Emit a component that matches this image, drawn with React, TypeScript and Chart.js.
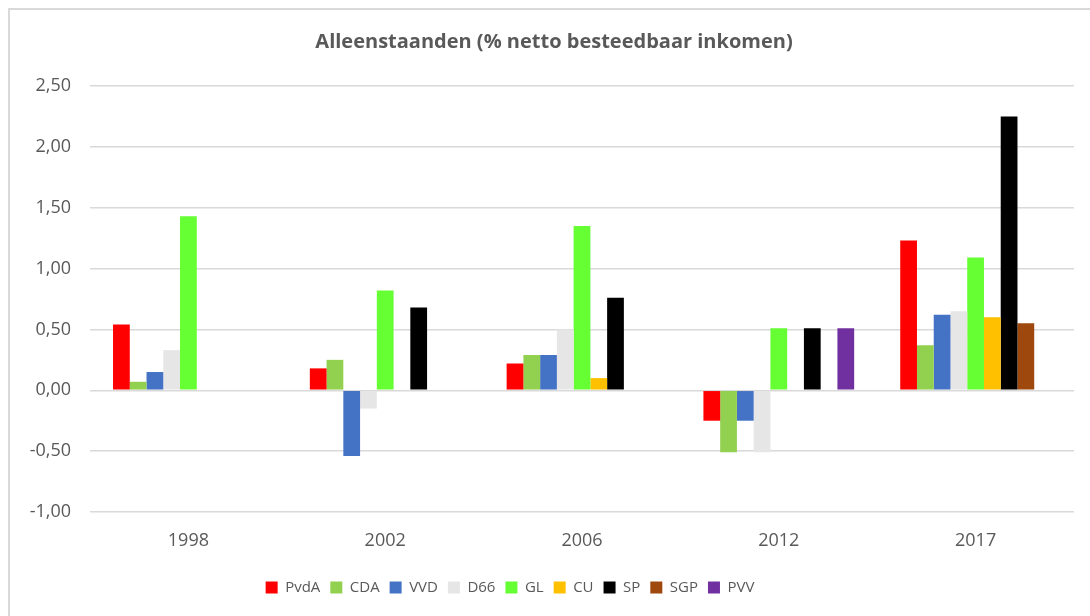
import React, { useEffect, useRef } from "react";
import { Chart, registerables } from "chart.js";

Chart.register(...registerables);

const chartTitle = "Alleenstaanden (% netto besteedbaar inkomen)";
const years = ["1998", "2002", "2006", "2012", "2017"];
const yTicks = [-1.0, -0.5, 0.0, 0.5, 1.0, 1.5, 2.0, 2.5];

const parties = ["PvdA", "CDA", "VVD", "D66", "GL", "CU", "SP", "SGP", "PVV"];
const pvda = [0.54, 0.18, 0.22, -0.25, 1.23];
const cda = [0.07, 0.25, 0.29, -0.51, 0.37];
const vvd = [0.15, -0.54, 0.29, -0.25, 0.62];
const d66 = [0.33, -0.15, 0.5, -0.51, 0.65];
const gl = [1.43, 0.82, 1.35, 0.51, 1.09];
const cu = [null, null, 0.1, null, 0.6];
const sp = [null, 0.68, 0.76, 0.51, 2.25];
const sgp = [null, null, null, null, 0.55];
const pvv = [null, null, null, 0.51, null];
const seriesValues = [pvda, cda, vvd, d66, gl, cu, sp, sgp, pvv];
const colors = ["#FF0000", "#92D050", "#4472C4", "#E7E6E6", "#66FF33", "#FFC000", "#000000", "#9E480E", "#7030A0"];

const FONT = "'Open Sans', 'Liberation Sans', sans-serif";
const TEXT = "#595959";

const framePlugin = {
  id: "frame",
  beforeDraw(chart: any) {
    const { ctx, width, height } = chart;
    ctx.save();
    ctx.fillStyle = "#FFFFFF";
    ctx.fillRect(0, 0, width, height);
    ctx.strokeStyle = "#D9D9D9";
    ctx.lineWidth = 2;
    ctx.beginPath();
    ctx.moveTo(9, height + 5);
    ctx.lineTo(9, 9);
    ctx.lineTo(width + 5, 9);
    ctx.stroke();
    ctx.restore();
  },
  afterLayout(chart: any) {
    const lg = chart.legend;
    if (lg) {
      lg.left -= 27;
      lg.right -= 27;
    }
    const tb = chart.titleBlock;
    if (tb) {
      tb.left += 17;
      tb.right += 17;
    }
  },
};

export default function App() {
  const ref = useRef<HTMLCanvasElement | null>(null);
  useEffect(() => {
    if (!ref.current) return;
    const chart = new Chart(ref.current, {
      type: "bar",
      data: {
        labels: years,
        datasets: parties.map((p, i) => ({
          label: p,
          data: seriesValues[i],
          backgroundColor: colors[i],
          borderWidth: 0,
          barPercentage: 1.0,
          categoryPercentage: 0.766,
        })),
      },
      options: {
        animation: false,
        responsive: false,
        maintainAspectRatio: false,
        layout: { padding: { top: 10, left: 0, right: 16, bottom: 11 } },
        plugins: {
          title: {
            display: true,
            text: chartTitle,
            color: TEXT,
            font: { family: FONT, size: 20, weight: "bold" },
            padding: { top: 20, bottom: 32 },
          },
          legend: {
            position: "bottom",
            labels: {
              color: TEXT,
              font: { family: FONT, size: 15 },
              boxWidth: 12,
              boxHeight: 12,
              padding: 10,
            },
          },
          tooltip: { enabled: false },
        },
        scales: {
          x: {
            grid: { display: false, drawTicks: false },
            border: { display: false },
            ticks: { color: TEXT, font: { family: FONT, size: 18 }, padding: 18 },
            afterFit(scale: any) {
              scale.height = 58;
            },
          },
          y: {
            min: -1,
            max: 2.5,
            afterBuildTicks(scale: any) {
              scale.ticks = yTicks.map((v) => ({ value: v }));
            },
            grid: { color: "#D9D9D9", lineWidth: 1.5, drawTicks: false },
            border: { display: false },
            ticks: {
              color: TEXT,
              font: { family: FONT, size: 18 },
              padding: 19,
              callback: (v: any) => Number(v).toFixed(2).replace(".", ","),
            },
            afterFit(scale: any) {
              scale.width = 90;
            },
          },
        },
      },
      plugins: [framePlugin],
    });
    return () => chart.destroy();
  }, []);
  return (
    <div style={{ position: "fixed", left: 0, top: 0, width: 1090, height: 616, background: "#fff" }}>
      <canvas ref={ref} width={1090} height={616} style={{ display: "block", width: 1090, height: 616 }} />
    </div>
  );
}
